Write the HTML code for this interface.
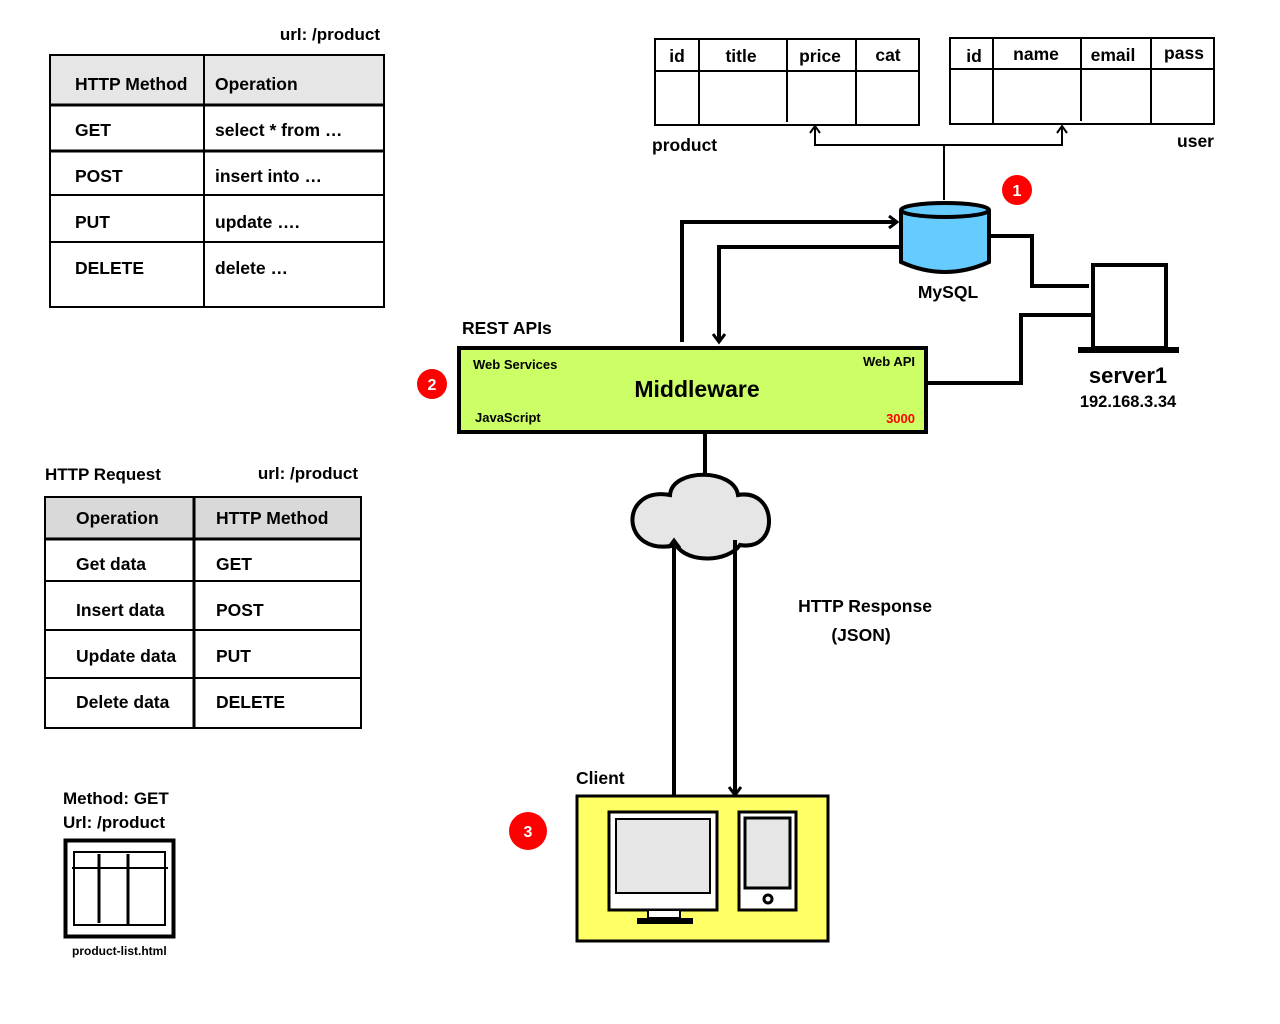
<!DOCTYPE html>
<html><head><meta charset="utf-8"><style>
html,body{margin:0;padding:0;background:#fff;}
svg{display:block;}
text{font-family:"Liberation Sans",Arial,sans-serif;font-weight:bold;fill:#000;}
</style></head><body>
<svg width="1280" height="1024" viewBox="0 0 1280 1024" xmlns="http://www.w3.org/2000/svg">
<defs>
<marker id="ah" markerWidth="14" markerHeight="14" refX="10" refY="7" orient="auto" markerUnits="userSpaceOnUse">
<path d="M2,1 L10,7 L2,13" fill="none" stroke="#000" stroke-width="3"/>
</marker>
<marker id="ahs" markerWidth="14" markerHeight="14" refX="10" refY="7" orient="auto" markerUnits="userSpaceOnUse">
<path d="M3,2 L10,7 L3,12" fill="none" stroke="#000" stroke-width="2"/>
</marker>
</defs>

<text x="380" y="40" font-size="17" text-anchor="end">url: /product</text>
<rect x="50" y="55" width="334" height="50" fill="#e6e6e6"/>
<rect x="50" y="55" width="334" height="252" fill="none" stroke="#000" stroke-width="2"/>
<g stroke="#000" stroke-width="3">
<line x1="50" y1="105" x2="384" y2="105"/>
<line x1="50" y1="151" x2="384" y2="151"/>
<line x1="50" y1="195" x2="384" y2="195" stroke-width="2"/>
<line x1="50" y1="242" x2="384" y2="242" stroke-width="2"/>
<line x1="204" y1="55" x2="204" y2="307" stroke-width="2"/>
</g>
<g font-size="17.5">
<text x="75" y="90">HTTP Method</text><text x="215" y="90">Operation</text>
<text x="75" y="136">GET</text><text x="215" y="136">select * from …</text>
<text x="75" y="182">POST</text><text x="215" y="182">insert into …</text>
<text x="75" y="228">PUT</text><text x="215" y="228">update ….</text>
<text x="75" y="274">DELETE</text><text x="215" y="274">delete …</text>
</g>

<text x="45" y="480" font-size="17">HTTP Request</text>
<text x="358" y="479" font-size="17" text-anchor="end">url: /product</text>
<rect x="45" y="497" width="316" height="42" fill="#d9d9d9"/>
<rect x="45" y="497" width="316" height="231" fill="none" stroke="#000" stroke-width="2"/>
<g stroke="#000" stroke-width="2">
<line x1="45" y1="539" x2="361" y2="539" stroke-width="3"/>
<line x1="45" y1="581" x2="361" y2="581"/>
<line x1="45" y1="630" x2="361" y2="630"/>
<line x1="45" y1="678" x2="361" y2="678"/>
<line x1="194" y1="497" x2="194" y2="728" stroke-width="3"/>
</g>
<g font-size="17.5">
<text x="76" y="524">Operation</text><text x="216" y="524">HTTP Method</text>
<text x="76" y="570">Get data</text><text x="216" y="570">GET</text>
<text x="76" y="616">Insert data</text><text x="216" y="616">POST</text>
<text x="76" y="662">Update data</text><text x="216" y="662">PUT</text>
<text x="76" y="708">Delete data</text><text x="216" y="708">DELETE</text>
</g>

<text x="63" y="804" font-size="17">Method: GET</text>
<text x="63" y="828" font-size="17">Url: /product</text>
<rect x="65.5" y="840.5" width="108" height="96" fill="#fff" stroke="#000" stroke-width="4"/>
<rect x="74" y="852" width="91" height="73" fill="none" stroke="#000" stroke-width="2"/>
<line x1="72" y1="868" x2="168" y2="868" stroke="#000" stroke-width="2"/>
<line x1="99" y1="854" x2="99" y2="923" stroke="#000" stroke-width="3"/>
<line x1="128" y1="854" x2="128" y2="925" stroke="#000" stroke-width="3"/>
<text x="72" y="955" font-size="12">product-list.html</text>

<rect x="655" y="39" width="264" height="86" fill="none" stroke="#000" stroke-width="2"/>
<line x1="655" y1="71" x2="920" y2="71" stroke="#000" stroke-width="2"/>
<line x1="699" y1="39" x2="699" y2="125" stroke="#000" stroke-width="2"/>
<line x1="787" y1="39" x2="787" y2="122" stroke="#000" stroke-width="2"/>
<line x1="856" y1="39" x2="856" y2="125" stroke="#000" stroke-width="2"/>
<g font-size="17.5">
<text x="677" y="62" text-anchor="middle">id</text>
<text x="741" y="62" text-anchor="middle">title</text>
<text x="820" y="62" text-anchor="middle">price</text>
<text x="888" y="61" text-anchor="middle">cat</text>
<text x="652" y="151">product</text>
</g>
<rect x="950" y="38" width="264" height="86" fill="none" stroke="#000" stroke-width="2"/>
<line x1="950" y1="69" x2="1215" y2="69" stroke="#000" stroke-width="2"/>
<line x1="993" y1="38" x2="993" y2="124" stroke="#000" stroke-width="2"/>
<line x1="1081" y1="38" x2="1081" y2="121" stroke="#000" stroke-width="2"/>
<line x1="1151" y1="38" x2="1151" y2="124" stroke="#000" stroke-width="2"/>
<g font-size="17.5">
<text x="974" y="62" text-anchor="middle">id</text>
<text x="1036" y="60" text-anchor="middle">name</text>
<text x="1113" y="61" text-anchor="middle">email</text>
<text x="1184" y="59" text-anchor="middle">pass</text>
<text x="1214" y="147" text-anchor="end">user</text>
</g>
<path d="M944,200 L944,145 L815,145 L815,126" fill="none" stroke="#000" stroke-width="2" marker-end="url(#ahs)"/>
<path d="M944,145 L1062,145 L1062,126" fill="none" stroke="#000" stroke-width="2" marker-end="url(#ahs)"/>

<circle cx="1017" cy="190" r="15" fill="#ff0000"/><text x="1017" y="196" font-size="16" text-anchor="middle" style="fill:#fff">1</text>
<circle cx="432" cy="384" r="15" fill="#ff0000"/><text x="432" y="390" font-size="16" text-anchor="middle" style="fill:#fff">2</text>
<circle cx="528" cy="831" r="19" fill="#ff0000"/><text x="528" y="837" font-size="16" text-anchor="middle" style="fill:#fff">3</text>

<path d="M901,210 L901,262 Q945,282 989,262 L989,210" fill="#66ccff" stroke="#000" stroke-width="4"/>
<ellipse cx="945" cy="210" rx="44" ry="7" fill="#66ccff" stroke="#000" stroke-width="4"/>
<text x="948" y="298" font-size="17.5" text-anchor="middle">MySQL</text>

<path d="M682,342 L682,222 L897,222" fill="none" stroke="#000" stroke-width="4" marker-end="url(#ah)"/>
<path d="M901,247 L719,247 L719,342" fill="none" stroke="#000" stroke-width="4" marker-end="url(#ah)"/>
<path d="M989,236 L1032,236 L1032,286 L1089,286" fill="none" stroke="#000" stroke-width="4"/>
<path d="M927,383 L1021,383 L1021,315 L1092,315" fill="none" stroke="#000" stroke-width="4"/>

<rect x="1093" y="265" width="73" height="83" fill="#fff" stroke="#000" stroke-width="4"/>
<rect x="1078" y="347" width="101" height="6" fill="#000"/>
<text x="1128" y="383" font-size="22" text-anchor="middle">server1</text>
<text x="1128" y="407" font-size="16.5" text-anchor="middle">192.168.3.34</text>

<text x="462" y="334" font-size="17.5">REST APIs</text>
<rect x="459" y="348" width="467" height="84" fill="#ccff66" stroke="#000" stroke-width="4"/>
<text x="473" y="369" font-size="13">Web Services</text>
<text x="915" y="366" font-size="13" text-anchor="end">Web API</text>
<text x="697" y="397" font-size="23" text-anchor="middle">Middleware</text>
<text x="475" y="422" font-size="13">JavaScript</text>
<text x="915" y="423" font-size="13" text-anchor="end" style="fill:#ff0000">3000</text>

<line x1="705" y1="432" x2="705" y2="478" stroke="#000" stroke-width="4"/>
<path d="M670,495 C672,468 734,468 738,495 C778,488 780,552 740,545 C728,562 688,564 676,545 C620,558 618,486 670,495 Z" fill="#e6e6e6" stroke="#000" stroke-width="4"/>

<path d="M674,795 L674,540" fill="none" stroke="#000" stroke-width="4" marker-end="url(#ah)"/>
<path d="M735,540 L735,795" fill="none" stroke="#000" stroke-width="4" marker-end="url(#ah)"/>
<text x="865" y="612" font-size="17.5" text-anchor="middle">HTTP Response</text>
<text x="861" y="641" font-size="17.5" text-anchor="middle">(JSON)</text>

<text x="576" y="784" font-size="17.5">Client</text>
<rect x="577" y="796" width="251" height="145" fill="#ffff66" stroke="#000" stroke-width="3"/>
<rect x="609" y="812" width="108" height="98" fill="#fff" stroke="#000" stroke-width="3"/>
<rect x="616" y="819" width="94" height="74" fill="#e6e6e6" stroke="#000" stroke-width="2"/>
<rect x="648" y="910" width="32" height="8" fill="#fff" stroke="#000" stroke-width="2"/>
<rect x="637" y="918" width="56" height="6" fill="#000"/>
<rect x="739" y="812" width="57" height="98" fill="#fff" stroke="#000" stroke-width="3"/>
<rect x="745" y="818" width="45" height="70" fill="#e6e6e6" stroke="#000" stroke-width="3"/>
<circle cx="768" cy="899" r="4" fill="#fff" stroke="#000" stroke-width="3"/>
</svg>
</body></html>
